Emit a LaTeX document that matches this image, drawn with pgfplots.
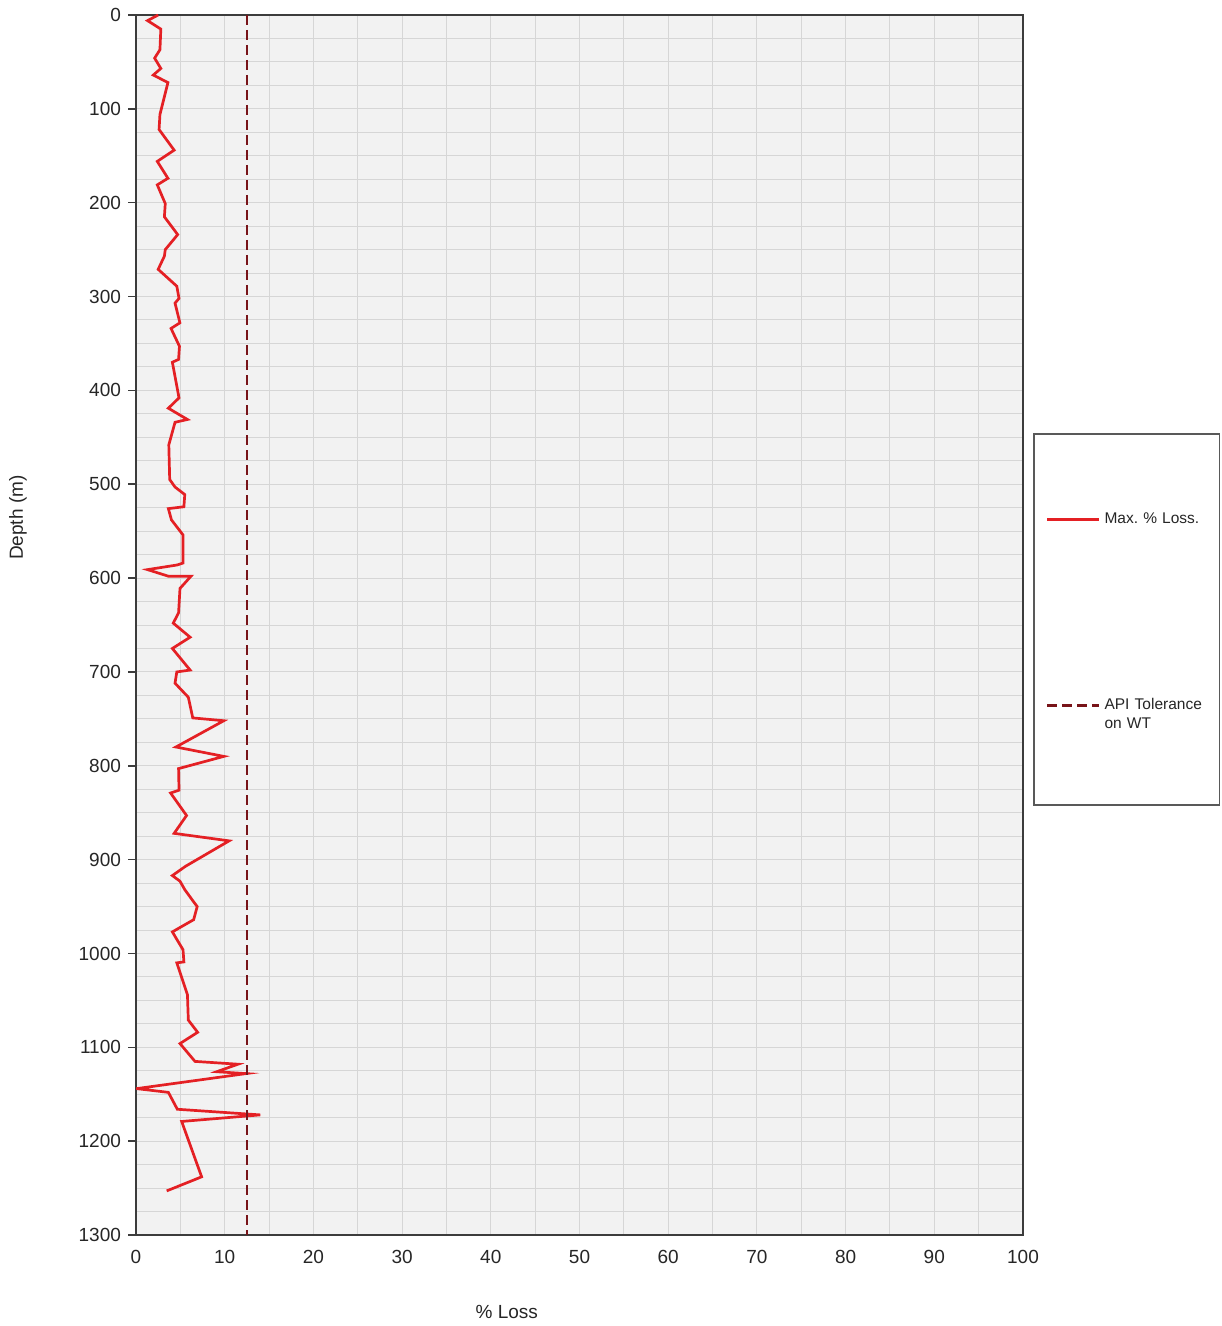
\documentclass[border=0pt]{standalone}
\usepackage{fontspec}
\setmainfont{Liberation Sans}
\usepackage{pgfplots}
\usepackage{pgfplotstable}
\pgfplotsset{compat=1.18}
\definecolor{lossred}{RGB}{228,32,36}
\definecolor{apired}{RGB}{120,20,25}
\definecolor{gridgray}{RGB}{214,214,214}
\definecolor{bggray}{RGB}{242,242,242}
\definecolor{axisgray}{RGB}{60,60,60}
\pgfplotsset{apilegend/.style={legend image code/.code={\draw[##1] (0pt,0pt) -- (26pt,0pt); \path (0pt,-11.5pt);}}}
\pgfplotstableread{
loss depth
2.5 0
1.3 6
2.8 15
2.7 37
2.1 46
2.8 57
1.95 64
3.6 72
2.7 106
2.6 122
4.3 144
2.4 156
3.6 174
2.4 181
3.3 201
3.2 215
4.7 234
3.3 250
3.2 257
2.5 271
4.6 289
4.85 302
4.4 307
4.95 328
3.95 334
4.9 353
4.8 367
4.1 370
4.85 408
3.65 419
5.8 431
4.4 434
3.7 458
3.8 495
4.4 503
5.5 511
5.4 524
3.65 526
4.0 538
5.3 554
5.3 584
4.66 586
1.3 591
3.65 598
6.2 598
4.96 611
4.8 637
4.2 648
6.1 663
4.1 675
6.1 698
4.6 700
4.4 712
5.9 727
6.4 749
9.9 752
4.5 780
9.9 790
4.8 803
4.85 826
3.9 829
5.7 853
4.3 872
10.5 880
5.6 907
4.1 917
4.96 923
5.5 932
6.5 945
6.9 950
6.5 964
4.1 977
5.3 996
5.4 1009
4.6 1010
5.8 1044
5.9 1071
6.95 1084
4.96 1096
6.65 1115
11.5 1118
9.1 1126
12.4 1128
0.07 1144
3.65 1148
4.66 1166
14.0 1172
5.15 1179
7.4 1238
3.46 1253
}\losstable
\pgfplotstableread{
loss depth
12.5 0
12.5 1300
}\apitable
\begin{document}
\begin{tikzpicture}
\path[use as bounding box] (0,0) rectangle (610.5pt,663pt);
\begin{axis}[
  at={(68pt,45.5pt)}, anchor=south west,
  scale only axis, width=443.5pt, height=610pt,
  xmin=0, xmax=100, ymin=0, ymax=1300,
  y dir=reverse,
  xtick={0,10,...,100}, ytick={0,100,...,1300},
  minor x tick num=1, minor y tick num=3,
  grid=both,
  major grid style={gridgray, line width=0.5pt},
  minor grid style={gridgray, line width=0.5pt},
  axis background/.style={fill=bggray},
  axis line style={axisgray, line width=1pt},
  tick pos=left,
  tick align=outside, major tick length=4pt, minor tick length=0pt,
  xtick style={draw=none},
  ytick style={axisgray, line width=0.8pt},
  ticklabel style={font=\fontsize{9.5}{11}\selectfont, text=black!85},
  /pgf/number format/assume math mode=true,
  /pgf/number format/set thousands separator={},
  xlabel={\% Loss}, ylabel={Depth (m)},
  label style={font=\fontsize{9.5}{11}\selectfont, text=black!85},
  xlabel style={at={(axis description cs:0.418,-0.063)}, anchor=center},
  ylabel style={at={(axis description cs:-0.133,0.588)}, anchor=center},
  legend style={at={(axis description cs:1.0113,0.6574)}, anchor=north west,
    draw=black!65, line width=0.8pt, fill=white,
    inner xsep=6pt, inner ysep=37.5pt, row sep=82pt,
    font=\fontsize{7.75}{9.3}\selectfont, text=black!85,
    cells={anchor=west, align=left, text width=49.5pt}},
  legend image code/.code={\draw[#1] (0pt,0pt) -- (26pt,0pt);},
]
\addplot[lossred, line width=1.35pt, line join=miter] table[x=loss, y=depth] {\losstable};
\addlegendentry{Max.\ \% Loss.}
\addplot[apired, line width=1.3pt, dash pattern=on 5pt off 2.5pt, apilegend]
  table[x=loss, y=depth] {\apitable};
\addlegendentry{API Tolerance\\on WT}
\end{axis}
\end{tikzpicture}
\end{document}
